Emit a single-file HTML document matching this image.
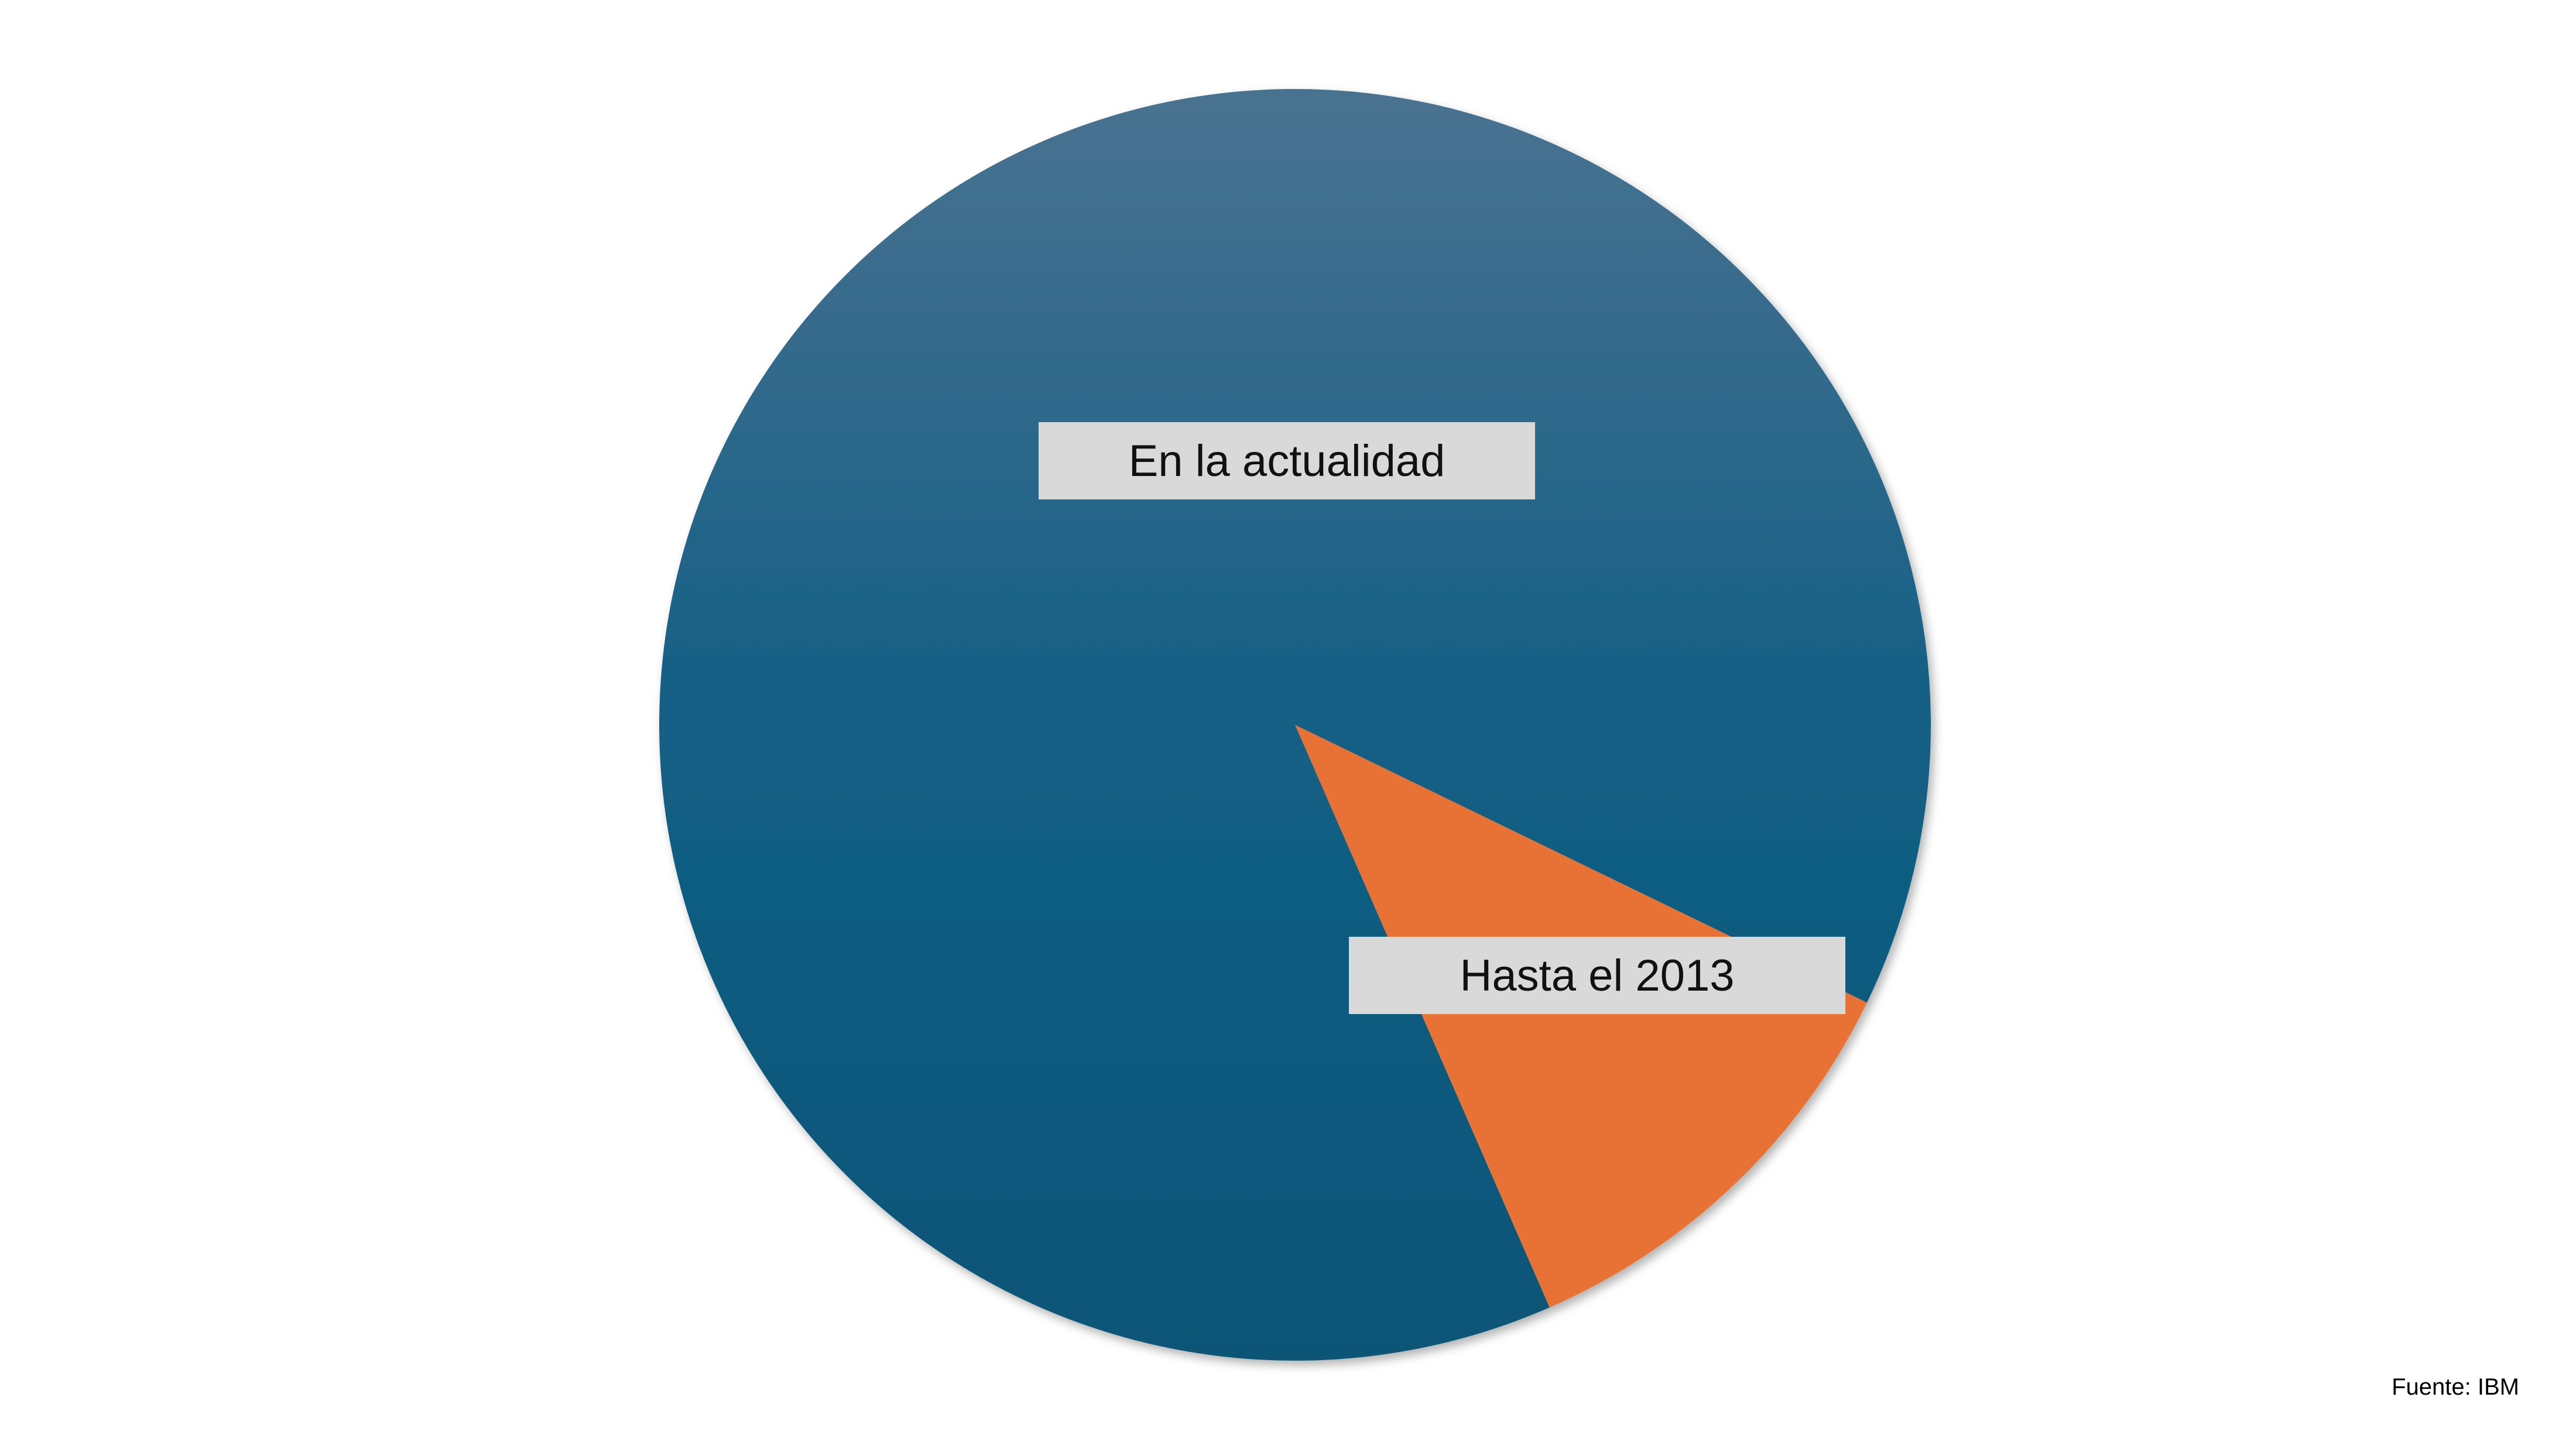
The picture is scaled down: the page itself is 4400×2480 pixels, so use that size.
<!DOCTYPE html>
<html><head><meta charset="utf-8"><style>
body{margin:0;width:4400px;height:2475px;background:#fff;overflow:hidden;font-family:"Liberation Sans",sans-serif}
</style></head><body>
<svg width="4400" height="2475">
<defs>
<linearGradient id="bg" x1="0" y1="0" x2="0" y2="1">
<stop offset="0" stop-color="#4a7291"/><stop offset="0.5" stop-color="#135f85"/><stop offset="1" stop-color="#0a5577"/>
</linearGradient>
<filter id="sh" x="-10%" y="-10%" width="120%" height="120%"><feDropShadow dx="6" dy="8" stdDeviation="8" flood-color="#000" flood-opacity="0.3"/></filter>
</defs>
<g id="slices" filter="url(#sh)"></g>
<g id="labels"></g>
<text x="4303" y="2382" font-size="40" text-anchor="end" fill="#000">Fuente: IBM</text>
</svg>
<script>
const categories=["Hasta el 2013","En la actualidad"];
const values=[11.25,88.75];
const cx=2212,cy=1238,r=1086,startDeg=115.9;
const fills=["#e87234","url(#bg)"];
const names=["slice-hasta-2013","slice-en-la-actualidad"];
const labelPos=[[2728,1666],[2198,787]];
const ns="http://www.w3.org/2000/svg";
const total=values.reduce((a,b)=>a+b,0);
let a=startDeg;
const g=document.getElementById('slices'),lg=document.getElementById('labels');
function pt(d){const t=(d-90)*Math.PI/180;return [cx+r*Math.cos(t),cy+r*Math.sin(t)];}
values.forEach((v,i)=>{
 const sweep=v/total*360,p1=pt(a),p2=pt(a+sweep);
 const p=document.createElementNS(ns,'path');
 p.setAttribute('d',`M${cx},${cy}L${p1[0]},${p1[1]}A${r},${r} 0 ${sweep>180?1:0} 1 ${p2[0]},${p2[1]}Z`);
 p.setAttribute('fill',fills[i]);
 
 
 g.appendChild(p);
 a+=sweep;
 const [lx,ly]=labelPos[i];
 const rc=document.createElementNS(ns,'rect');
 rc.setAttribute('x',lx-424);rc.setAttribute('y',ly-66);rc.setAttribute('width',848);rc.setAttribute('height',132);rc.setAttribute('fill','#d9d9d9');
 
 
 lg.appendChild(rc);
 const t=document.createElementNS(ns,'text');
 t.setAttribute('x',lx);t.setAttribute('y',ly+26);t.setAttribute('font-size','76');t.setAttribute('text-anchor','middle');t.setAttribute('fill','#111');
 t.textContent=categories[i];
 
 
 lg.appendChild(t);
});
</script>
</body></html>
